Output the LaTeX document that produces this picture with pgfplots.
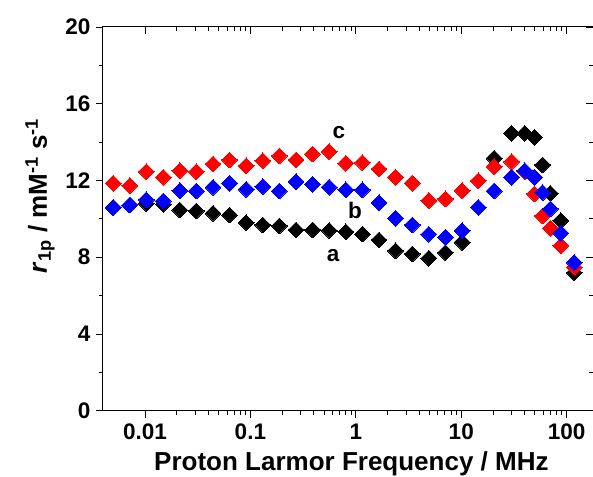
\documentclass[border=0pt]{standalone}
\usepackage{fontspec}
\setmainfont{Liberation Sans}
\usepackage{pgfplots}
\pgfplotsset{compat=1.18}
\begin{document}
\begin{tikzpicture}
\begin{axis}[
  width=490pt, height=383.7pt, scale only axis,
  xmode=log, xmin=0.004, xmax=177.7,
  ymin=0, ymax=20,
  ytick={0,4,8,12,16,20}, minor y tick num=1,
  xtick={0.01,0.1,1,10,100},
  major tick length=7pt, minor tick length=4pt,
  every tick/.style={black, line width=0.9pt},
  axis line style={line width=1pt},
  tick align=inside, xtick pos=right, ytick pos=right,
  xticklabels={}, yticklabels={}]
\addplot[draw=none] coordinates {(1,1)};
\end{axis}
\begin{axis}[
  width=490pt, height=383.7pt, scale only axis,
  xmode=log, xmin=0.004, xmax=177.7,
  ymin=0, ymax=20,
  ytick={0,4,8,12,16,20}, minor y tick num=1,
  xtick={0.01,0.1,1,10,100},
  major tick length=7pt, minor tick length=4pt,
  every tick/.style={black, line width=0.9pt},
  axis line style={line width=1pt},
  tick align=outside, xtick pos=left, ytick pos=left,
  xticklabels={0.01,0.1,1,10,100},
  yticklabels={0,4,8,12,16,20},
  ticklabel style={font=\bfseries\fontsize{22.5}{27}\selectfont},
  yticklabel style={xshift=-2pt},
  xticklabel style={yshift=-3pt},
  xlabel={Proton Larmor Frequency / MHz},
  ylabel={\textit{r}\textsubscript{1p} / mM\textsuperscript{-1} s\textsuperscript{-1}},
  label style={font=\bfseries\fontsize{26}{30}\selectfont},
  xlabel style={at={(axis description cs:0.507,0)}, anchor=base, yshift=-59.3pt},
  ylabel style={at={(axis description cs:-0.1286,0.56)}, anchor=center},
  clip=false]
\addplot[only marks, mark=square*, mark size=5.6pt, mark options={rotate=45, draw=black, fill=black, line width=0pt}] coordinates {
(0.005,10.6) (0.0072,10.72) (0.0103,10.8) (0.0149,10.76) (0.0214,10.46) (0.0307,10.41)
(0.0442,10.29) (0.0634,10.20) (0.0912,9.80) (0.131,9.68) (0.188,9.63) (0.271,9.42)
(0.389,9.42) (0.559,9.40) (0.804,9.32) (1.155,9.21) (1.66,8.90) (2.38,8.34)
(3.43,8.17) (4.92,7.95) (7.08,8.24) (10.2,8.78)
(20.5,13.16) (30,14.46) (40,14.46) (49.5,14.25) (59,12.81) (70,11.33) (88,9.91) (118,7.19)};
\addplot[only marks, mark=square*, mark size=5.6pt, mark options={rotate=45, draw=red, fill=red, line width=0pt}] coordinates {
(0.005,11.86) (0.0072,11.73) (0.0103,12.46) (0.0149,12.17) (0.0214,12.51) (0.0307,12.46)
(0.0442,12.86) (0.0634,13.07) (0.0912,12.76) (0.131,13.03) (0.188,13.28) (0.271,13.07)
(0.389,13.38) (0.559,13.50) (0.804,12.90) (1.155,12.93) (1.66,12.60) (2.38,12.17)
(3.43,11.86) (4.92,10.95) (7.08,11.04) (10.2,11.47)
(14.5,11.99) (20.5,12.72) (30,12.98) (40,12.46) (49.5,11.30) (59,10.15) (70,9.51) (88,8.60) (118,7.48)};
\addplot[only marks, mark=square*, mark size=5.6pt, mark options={rotate=45, draw=blue, fill=blue, line width=0pt}] coordinates {
(0.005,10.58) (0.0072,10.72) (0.0103,10.99) (0.0149,10.93) (0.0214,11.47) (0.0307,11.45)
(0.0442,11.65) (0.0634,11.86) (0.0912,11.54) (0.131,11.68) (0.188,11.45) (0.271,11.94)
(0.389,11.80) (0.559,11.65) (0.804,11.51) (1.155,11.51) (1.66,10.84) (2.38,10.03)
(3.43,9.68) (4.92,9.20) (7.08,9.04) (10.2,9.38)
(14.5,10.60) (20.5,11.45) (30,12.17) (40,12.51) (49.5,12.17) (59,11.37) (70,10.52) (88,9.25) (118,7.72)};
\node[font=\bfseries\fontsize{22.5}{27}\selectfont] at (axis cs:0.69,14.5) {c};
\node[font=\bfseries\fontsize{22.5}{27}\selectfont] at (axis cs:0.98,10.45) {b};
\node[font=\bfseries\fontsize{22.5}{27}\selectfont] at (axis cs:0.61,8.1) {a};
\coordinate (O) at (rel axis cs:0,0);
\end{axis}
\pgfresetboundingbox
\path (O) ++(-103pt,-65.3pt) rectangle ++(593pt,476pt);
\end{tikzpicture}
\end{document}
